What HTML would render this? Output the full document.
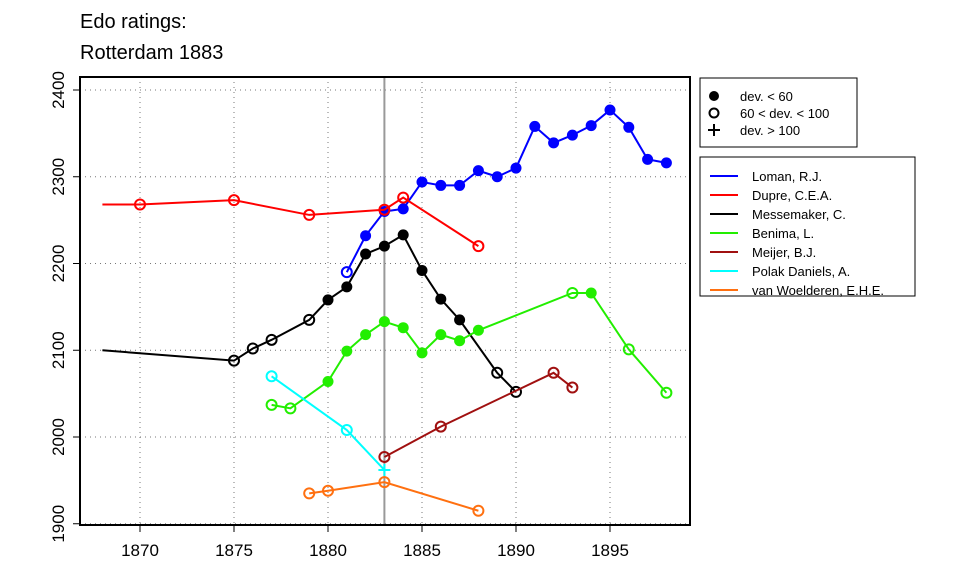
<!DOCTYPE html>
<html><head><meta charset="utf-8"><style>
body{margin:0;background:#fff;font-family:"Liberation Sans",sans-serif}
svg text{font-family:"Liberation Sans",sans-serif}
</style></head><body>
<svg id="c" width="960" height="576" xmlns="http://www.w3.org/2000/svg">
<text x="80" y="28" font-size="20">Edo ratings:</text>
<text x="80" y="59" font-size="20">Rotterdam 1883</text>
<g id="grid"></g><g id="axes"></g><g id="series"></g>
<rect x="80" y="77" width="610" height="448" fill="none" stroke="#000" stroke-width="2"/>
<g>
<rect x="700" y="78" width="157" height="69" fill="#fff" stroke="#000"/>
<circle cx="714" cy="96" r="5" fill="#000"/><text x="740" y="101" font-size="13">dev. &lt; 60</text>
<circle cx="714" cy="113" r="4.5" fill="none" stroke="#000" stroke-width="2"/><text x="740" y="118" font-size="13">60 &lt; dev. &lt; 100</text>
<path d="M708 130h12M714 124v12" stroke="#000" stroke-width="2"/><text x="740" y="135" font-size="13">dev. &gt; 100</text>
</g>
<g id="legend">
<rect x="700" y="157" width="215" height="139" fill="#fff" stroke="#000"/>
</g>
</svg>
<script>
const years=[1870,1875,1880,1885,1890,1895];
const yTicks=[1900,2000,2100,2200,2300,2400];
const names=["Loman, R.J.","Dupre, C.E.A.","Messemaker, C.","Benima, L.","Meijer, B.J.","Polak Daniels, A.","van Woelderen, E.H.E."];
const colors=["#0000ff","#ff0000","#000000","#22ee00","#a01010","#00ffff","#ff7010"];
const lomanX=[1881,1882,1883,1884,1885,1886,1887,1888,1889,1890,1891,1892,1893,1894,1895,1896,1897,1898];
const lomanY=[2190,2232,2260,2263,2294,2290,2290,2307,2300,2310,2358,2339,2348,2359,2377,2357,2320,2316];
const lomanM=["o","f","f","f","f","f","f","f","f","f","f","f","f","f","f","f","f","f"];
const dupreX=[1868,1870,1875,1879,1883,1884,1888];
const dupreY=[2268,2268,2273,2256,2262,2276,2220];
const dupreM=["n","o","o","o","o","o","o"];
const messX=[1868,1875,1876,1877,1879,1880,1881,1882,1883,1884,1885,1886,1887,1889,1890];
const messY=[2100,2088,2102,2112,2135,2158,2173,2211,2220,2233,2192,2159,2135,2074,2052];
const messM=["n","o","o","o","o","f","f","f","f","f","f","f","f","o","o"];
const benX=[1877,1878,1880,1881,1882,1883,1884,1885,1886,1887,1888,1893,1894,1896,1898];
const benY=[2037,2033,2064,2099,2118,2133,2126,2097,2118,2111,2123,2166,2166,2101,2051];
const benM=["o","o","f","f","f","f","f","f","f","f","f","o","f","o","o"];
const meiX=[1883,1886,1892,1893];
const meiY=[1977,2012,2074,2057];
const meiM=["o","o","o","o"];
const polX=[1877,1881,1883];
const polY=[2070,2008,1962];
const polM=["o","o","p"];
const vwX=[1879,1880,1883,1888];
const vwY=[1935,1938,1948,1915];
const vwM=["o","o","o","o"];
const seriesX=[lomanX,dupreX,messX,benX,meiX,polX,vwX];
const seriesY=[lomanY,dupreY,messY,benY,meiY,polY,vwY];
const seriesM=[lomanM,dupreM,messM,benM,meiM,polM,vwM];
const markYear=1883;
const X=y=>140+(y-1870)*18.8;
const Y=v=>437-(v-2000)*0.8675;
const NS="http://www.w3.org/2000/svg";
function mk(p,t,a){const e=document.createElementNS(NS,t);for(const k in a)e.setAttribute(k,a[k]);p.appendChild(e);return e;}
const grid=document.getElementById('grid'),axes=document.getElementById('axes'),ser=document.getElementById('series'),leg=document.getElementById('legend');
years.forEach(yr=>{
 const l=mk(grid,'line',{x1:X(yr),x2:X(yr),y1:77,y2:525,stroke:'#777','stroke-dasharray':'1 4'});
 
 
 mk(axes,'line',{x1:X(yr),x2:X(yr),y1:525,y2:532,stroke:'#000'});
 const t=mk(axes,'text',{x:X(yr),y:556,'font-size':17,'text-anchor':'middle'});t.textContent=yr;
 
 
});
yTicks.forEach(v=>{
 const l=mk(grid,'line',{x1:80,x2:690,y1:Y(v),y2:Y(v),stroke:'#777','stroke-dasharray':'1 4'});
 
 
 mk(axes,'line',{x1:73,x2:80,y1:Y(v),y2:Y(v),stroke:'#000'});
 const t=mk(axes,'text',{x:0,y:0,'font-size':17,'text-anchor':'middle',transform:`translate(64,${Y(v)}) rotate(-90)`});t.textContent=v;
 
 
});
const vl=mk(grid,'line',{x1:X(markYear),x2:X(markYear),y1:77,y2:525,stroke:'#999','stroke-width':2});


seriesX.forEach((xs,i)=>{
 const g=mk(ser,'g',{});
 
 
 mk(g,'polyline',{points:xs.map((x,j)=>X(x)+','+Y(seriesY[i][j])).join(' '),fill:'none',stroke:colors[i],'stroke-width':2});
 xs.forEach((x,j)=>{
  const m=seriesM[i][j],cx=X(x),cy=Y(seriesY[i][j]);
  let e;
  if(m==='f')e=mk(g,'circle',{cx,cy,r:5.5,fill:colors[i]});
  else if(m==='o')e=mk(g,'circle',{cx,cy,r:5,fill:'none',stroke:colors[i],'stroke-width':2});
  else if(m==='p')e=mk(g,'path',{d:`M${cx-6} ${cy}h12M${cx} ${cy-6}v12`,stroke:colors[i],'stroke-width':2});
  if(e){
  }
 });
});
names.forEach((n,i)=>{
 const y=176+i*19;
 mk(leg,'line',{x1:710,x2:738,y1:y,y2:y,stroke:colors[i],'stroke-width':2});
 const t=mk(leg,'text',{x:752,y:y+5,'font-size':13});t.textContent=n;
 
 
});
</script>
</body></html>
